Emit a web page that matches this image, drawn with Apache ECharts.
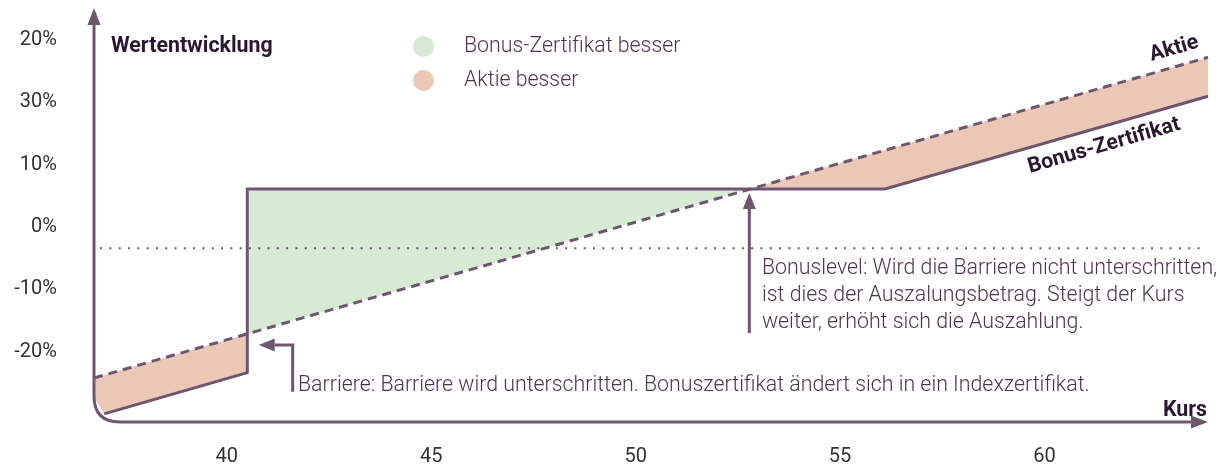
<!DOCTYPE html>
<html><head><meta charset="utf-8">
<script src="https://cdn.jsdelivr.net/npm/echarts@6/dist/echarts.min.js"></script>
<style>html,body{margin:0;padding:0;background:#fff}#c{width:1224px;height:468px}</style>
</head><body><div id="c"></div>
<script>
// ---- data ----
const xTickValues = [40, 45, 50, 55, 60];
const yTickValues = [-20, -10, 0, 10, 20, 30];
const yTickLabels = ['-20%', '-10%', '0%', '10%', '30%', '20%'];

const aktieKurs = [36.75, 64];
const aktieWert = [-24.2, 27.2];
const bonusKurs = [37.0, 40.5, 40.5, 56.1, 64];
const bonusWert = [-29.95, -23.35, 6.1, 6.1, 20.95];
const nullKurs = [36.9, 63.85];
const nullWert = [-3.4, -3.4];

const gruenKurs = [40.5, 52.78, 40.5];
const gruenWert = [6.1, 6.1, -17.13];
const orangeLinksKurs = [36.75, 40.5, 40.5, 37.0, 36.75];
const orangeLinksWert = [-24.2, -17.13, -23.35, -29.95, -27.2];
const orangeRechtsKurs = [52.78, 64, 64, 56.1];
const orangeRechtsWert = [6.1, 27.2, 20.95, 6.1];

const bonusPfeilKurs = [52.78, 52.78];
const bonusPfeilWert = [-17.0, 5.45];
const barrierePfeilKurs = [41.61, 41.61, 40.78];
const barrierePfeilWert = [-26.4, -18.9, -18.9];

const xMin = 36.75, xMax = 64, yMin = -31.25, yMax = 35.1;

// ---- styles ----
const LINE = '#6e5670';
const GREEN = '#d6ead4';
const ORANGE = '#ebc8b6';
const DARK = '#2b1631';
const TXT = '#4a3650';
const AX = '#333333';
const FONT = 'Roboto, "Noto Sans", sans-serif';
const FS = 21.33;

const pairs = (xs, ys) => xs.map((x, i) => [x, ys[i]]);

const chart = echarts.init(document.getElementById('c'), null, {renderer: 'canvas'});

function polyItem(polys) {
  return function (params, api) {
    const p = polys[params.dataIndex];
    const pts = p.map(v => api.coord(v));
    return {type: 'polygon', shape: {points: pts}, style: {fill: api.visual('color')}};
  };
}

function arrowGroup(pts, len, hw) {
  const n = pts.length;
  const tip = pts[n - 1], prev = pts[n - 2];
  const dx = tip[0] - prev[0], dy = tip[1] - prev[1];
  const d = Math.sqrt(dx * dx + dy * dy);
  const ux = dx / d, uy = dy / d;
  const base = [tip[0] - ux * len, tip[1] - uy * len];
  const line = pts.slice(0, n - 1).concat([base]);
  const tri = [tip, [base[0] - uy * hw, base[1] + ux * hw], [base[0] + uy * hw, base[1] - ux * hw]];
  return [
    {type: 'polyline', shape: {points: line}, style: {stroke: LINE, lineWidth: 3, fill: null}},
    {type: 'polygon', shape: {points: tri}, style: {fill: LINE}}
  ];
}

const option = {
  animation: false,
  grid: {left: 94, right: 16, top: 8, bottom: 46, containLabel: false},
  xAxis: {
    type: 'value', min: xMin, max: xMax,
    axisLine: {show: false}, axisTick: {show: false}, splitLine: {show: false},
    axisLabel: {customValues: xTickValues, margin: 25, color: AX, fontSize: 20, fontFamily: FONT}
  },
  yAxis: {
    type: 'value', min: yMin, max: yMax,
    axisLine: {show: false}, axisTick: {show: false}, splitLine: {show: false},
    axisLabel: {
      customValues: yTickValues, margin: 37, color: AX, fontSize: 20, fontFamily: FONT,
      formatter: v => yTickLabels[yTickValues.indexOf(v)]
    }
  },
  legend: {
    data: ['Bonus-Zertifikat besser', 'Aktie besser'],
    orient: 'vertical', left: 413, top: 36, padding: 0, icon: 'circle',
    itemWidth: 21, itemHeight: 21, itemGap: 13,
    selectedMode: false,
    textStyle: {color: TXT, fontSize: FS, lineHeight: 21, fontWeight: 300, fontFamily: FONT, padding: [0, 0, 0, 25]}
  },
  series: [
    {
      name: 'Bonus-Zertifikat besser', type: 'custom', z: 1, clip: false,
      itemStyle: {color: GREEN},
      data: [[xMin, yMin]],
      renderItem: polyItem([pairs(gruenKurs, gruenWert)])
    },
    {
      name: 'Aktie besser', type: 'custom', z: 1, clip: false,
      itemStyle: {color: ORANGE},
      data: [[xMin, yMin], [xMin, yMin]],
      renderItem: polyItem([pairs(orangeLinksKurs, orangeLinksWert), pairs(orangeRechtsKurs, orangeRechtsWert)])
    },
    {
      name: 'Null', type: 'line', z: 2, symbol: 'none', silent: true,
      data: pairs(nullKurs, nullWert),
      lineStyle: {color: LINE, width: 2, type: [2, 7.3]}
    },
    {
      name: 'Aktie', type: 'line', z: 3, symbol: 'none', silent: true,
      data: pairs(aktieKurs, aktieWert),
      lineStyle: {color: LINE, width: 3, type: [9, 6]}
    },
    {
      name: 'Bonus-Zertifikat', type: 'line', z: 4, symbol: 'none', silent: true,
      data: pairs(bonusKurs, bonusWert),
      lineStyle: {color: LINE, width: 3, join: 'miter'}
    },
    {
      name: 'Pfeile', type: 'custom', z: 5, clip: false, silent: true,
      data: [[xMin, yMin]],
      renderItem: function (params, api) {
        const a = pairs(bonusPfeilKurs, bonusPfeilWert).map(v => api.coord(v));
        const b = pairs(barrierePfeilKurs, barrierePfeilWert).map(v => api.coord(v));
        return {type: 'group', children: arrowGroup(a, 16, 6.5).concat(arrowGroup(b, 16, 6.5))};
      }
    },
    {
      name: 'Achsen', type: 'custom', z: 6, clip: false, silent: true,
      data: [[xMin, yMin]],
      renderItem: function (params, api) {
        const o = api.coord([xMin, yMin]);
        const top = api.coord([xMin, yMax]);
        const right = api.coord([xMax, yMin]);
        const r = 26;
        const path = 'M' + o[0] + ' ' + (top[1] + 14) + ' L' + o[0] + ' ' + (o[1] - r) +
          ' Q' + o[0] + ' ' + o[1] + ' ' + (o[0] + r) + ' ' + o[1] + ' L' + (right[0] - 14) + ' ' + o[1];
        return {
          type: 'group', children: [
            {type: 'path', shape: {pathData: path}, style: {stroke: LINE, lineWidth: 3, fill: null}},
            {type: 'polygon', shape: {points: [[top[0], top[1]], [top[0] - 6.5, top[1] + 17], [top[0] + 6.5, top[1] + 17]]}, style: {fill: LINE}},
            {type: 'polygon', shape: {points: [[right[0], right[1]], [right[0] - 17, right[1] - 6.5], [right[0] - 17, right[1] + 6.5]]}, style: {fill: LINE}}
          ]
        };
      }
    }
  ],
  graphic: [
    {type: 'text', x: 111, y: 47, style: {text: 'Wertentwicklung', fill: DARK, fontSize: FS, fontWeight: 'bold', fontFamily: FONT, verticalAlign: 'middle'}},
    {type: 'text', x: 1207, y: 411, style: {text: 'Kurs', fill: DARK, fontSize: FS, fontWeight: 'bold', fontFamily: FONT, align: 'right', verticalAlign: 'middle'}},
    {type: 'text', x: 1174, y: 49, rotation: 0.281, style: {text: 'Aktie', fill: DARK, fontSize: FS, fontWeight: 'bold', fontFamily: FONT, align: 'center', verticalAlign: 'middle'}},
    {type: 'text', x: 1104, y: 146, rotation: 0.281, style: {text: 'Bonus-Zertifikat', fill: DARK, fontSize: FS, fontWeight: 'bold', fontFamily: FONT, align: 'center', verticalAlign: 'middle'}},
    {type: 'text', x: 762, y: 296, style: {text: 'Bonuslevel: Wird die Barriere nicht unterschritten,\nist dies der Auszalungsbetrag. Steigt der Kurs\nweiter, erhöht sich die Auszahlung.', fill: TXT, fontSize: FS, fontWeight: 300, lineHeight: 27, fontFamily: FONT, verticalAlign: 'middle'}},
    {type: 'text', x: 298, y: 386, style: {text: 'Barriere: Barriere wird unterschritten. Bonuszertifikat ändert sich in ein Indexzertifikat.', fill: TXT, fontSize: FS, fontWeight: 300, fontFamily: FONT, verticalAlign: 'middle'}}
  ]
};
chart.setOption(option);
</script>
</body></html>
